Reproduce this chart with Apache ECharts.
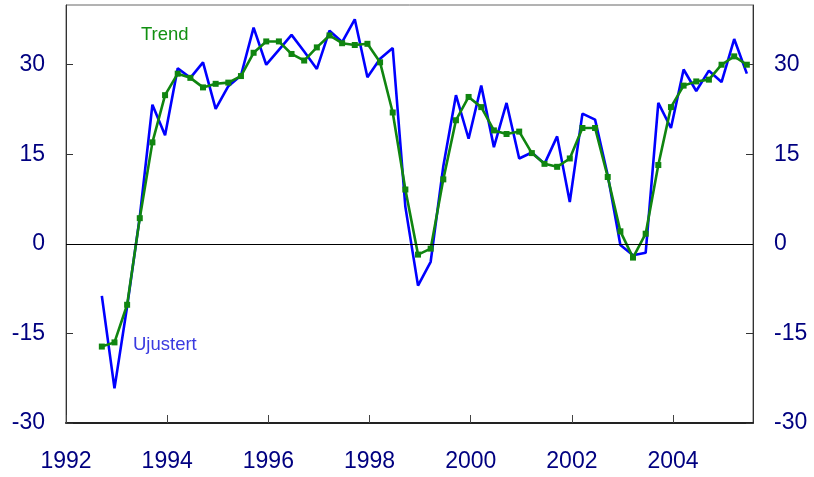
<!DOCTYPE html>
<html>
<head>
<meta charset="utf-8">
<script src="https://cdn.jsdelivr.net/npm/echarts@6.0.0/dist/echarts.min.js"></script>
<style>
  html, body { margin: 0; padding: 0; background: #fff; }
  #main { width: 814px; height: 477px; }
</style>
</head>
<body>
<div id="main"></div>
<script>
   // kvartalsdata, 1992K3 - 2005K2
   var startYear = 1992;
   var startQuarter = 3;
   var yearTicks = [1992, 1994, 1996, 1998, 2000, 2002, 2004];
   var valueTicks = [-30, -15, 0, 15, 30];

   var ujustert = [-8.7, -24.2, -10.5, 4.5, 23.3, 18.2, 29.4, 27.8, 30.4, 22.6,
                   26.4, 28.2, 36.2, 30.0, 32.5, 35.0, 32.2, 29.3, 35.7, 33.8,
                   37.6, 27.9, 31.0, 32.8, 6.2, -7.0, -3.0, 13.0, 24.9, 17.6,
                   26.5, 16.2, 23.6, 14.3, 15.3, 13.4, 18.0, 7.0, 21.8, 20.8,
                   11.5, -0.2, -1.9, -1.5, 23.6, 19.4, 29.2, 25.6, 29.0, 27.1,
                   34.3, 28.5];
   var trend = [-17.2, -16.5, -10.2, 4.3, 17.0, 24.9, 28.5, 27.8, 26.2, 26.8,
                27.0, 28.1, 32.0, 33.9, 33.9, 31.8, 30.7, 32.9, 34.9, 33.6,
                33.3, 33.5, 30.4, 22.0, 9.1, -1.8, -0.8, 10.8, 20.7, 24.6,
                22.9, 19.0, 18.4, 18.8, 15.2, 13.4, 12.9, 14.3, 19.4, 19.4,
                11.2, 2.1, -2.3, 1.7, 13.2, 22.9, 26.5, 27.2, 27.5, 30.0,
                31.4, 30.0];

   // x-posisjon: midt i siste maaned i kvartalet
   function quarterX(i) {
       var q = startQuarter - 1 + i;
       var year = startYear + Math.floor(q / 4);
       var month = (q % 4) * 3 + 3;
       return year + (month - 0.5) / 12;
   }
   function pairs(values) {
       var out = [];
       for (var i = 0; i < values.length; i++) {
           out.push([quarterX(i), values[i]]);
       }
       return out;
   }

   var labelFont = { color: '#000080', fontSize: 23, fontFamily: 'Liberation Sans, Arial, sans-serif' };

   var yAxisBase = function (pos) {
       return {
           type: 'value',
           position: pos,
           min: valueTicks[0],
           max: 40,
           interval: 15,
           axisLine: { show: true, lineStyle: { color: '#333', width: 1 } },
           axisTick: { show: true, inside: true, length: 7, lineStyle: { color: '#333' } },
           axisLabel: {
               color: labelFont.color, fontSize: labelFont.fontSize, fontFamily: labelFont.fontFamily,
               margin: 21, showMaxLabel: false,
               formatter: function (v) { return valueTicks.indexOf(v) >= 0 ? String(v) : ''; }
           },
           splitLine: { show: false }
       };
   };

   var myChart = echarts.init(document.getElementById('main'));
   myChart.setOption({
       animation: false,
       grid: {
           left: 66, right: 61, top: 5, bottom: 54,
           show: true, borderColor: '#666', borderWidth: 1, backgroundColor: 'transparent'
       },
       xAxis: {
           type: 'value',
           min: yearTicks[0],
           max: 2005.58,
           interval: 2,
           axisLine: { show: true, onZero: false, lineStyle: { color: '#222', width: 2 } },
           axisTick: { show: true, inside: true, length: 8, lineStyle: { color: '#444' } },
           axisLabel: {
               color: labelFont.color, fontSize: labelFont.fontSize, fontFamily: labelFont.fontFamily,
               margin: 27, showMaxLabel: false,
               formatter: function (v) { return yearTicks.indexOf(v) >= 0 ? String(v) : ''; }
           },
           splitLine: { show: false }
       },
       yAxis: [yAxisBase('left'), yAxisBase('right')],
       series: [
           {
               name: 'Ujustert',
               type: 'line',
               data: pairs(ujustert),
               showSymbol: false,
               lineStyle: { color: '#0000ff', width: 2.6 },
               itemStyle: { color: '#0000ff' },
               markLine: {
                   silent: true,
                   symbol: ['none', 'none'],
                   label: { show: false },
                   lineStyle: { color: '#000', width: 1, type: 'solid' },
                   data: [{ yAxis: 0 }]
               },
               z: 2
           },
           {
               name: 'Trend',
               type: 'line',
               data: pairs(trend),
               symbol: 'rect',
               symbolSize: 6,
               lineStyle: { color: '#108510', width: 2.6 },
               itemStyle: { color: '#108510' },
               z: 3
           }
       ],
       graphic: [
           { type: 'text', left: 141, top: 25,
             style: { text: 'Trend', fill: '#119011', fontSize: 18.5, fontFamily: labelFont.fontFamily } },
           { type: 'text', left: 133, top: 335,
             style: { text: 'Ujustert', fill: '#3a3ae0', fontSize: 18.5, fontFamily: labelFont.fontFamily } }
       ]
   });
</script>
</body>
</html>
